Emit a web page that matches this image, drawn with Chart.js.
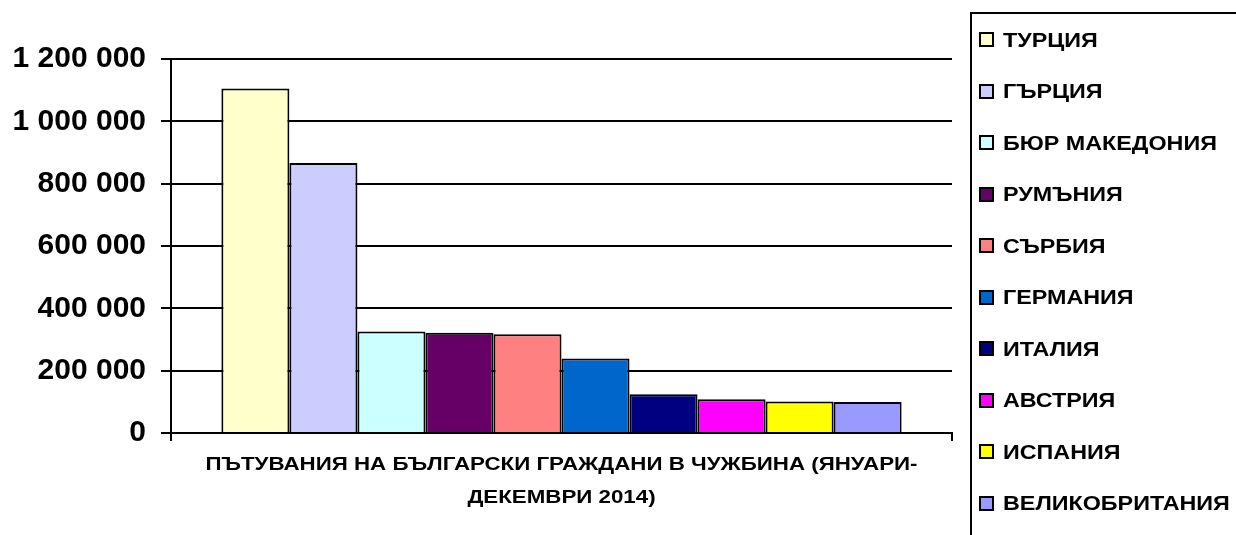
<!DOCTYPE html>
<html lang="bg">
<head>
    <meta charset="UTF-8">
    <title>Пътувания на български граждани в чужбина</title>
    <style>
        html, body {
            margin: 0;
            padding: 0;
            background: #fff;
            overflow: hidden;
        }
        #wrap {
            position: relative;
            width: 1236px;
            height: 535px;
        }
        #legend {
            position: absolute;
            left: 970px;
            top: 12px;
            width: 300px;
            height: 560px;
            border: 2px solid #000;
            box-sizing: border-box;
            font-family: "Liberation Sans", Arial, sans-serif;
            font-weight: bold;
            font-size: 21px;
            color: #000;
        }
        #legend ul {
            list-style: none;
            margin: 0;
            padding: 0 0 0 7px;
        }
        #legend li {
            height: 51.5px;
            display: flex;
            align-items: center;
        }
        #legend .box {
            width: 15px;
            height: 15px;
            border: 2px solid #000;
            box-sizing: border-box;
            margin-right: 9px;
            flex: none;
        }
        #legend .txt {
            display: inline-block;
            transform: scaleX(1.11);
            transform-origin: left center;
        }
    </style>
    <script src="https://cdn.jsdelivr.net/npm/chart.js"></script>
</head>
<body>
    <div id="wrap">
        <canvas id="chartCanvas" width="1236" height="535"></canvas>
        <div id="legend"><ul id="legend-list"></ul></div>
    </div>

    <script>
        // данни
        const categoryLabel = ['ПЪТУВАНИЯ НА БЪЛГАРСКИ ГРАЖДАНИ В ЧУЖБИНА (ЯНУАРИ-', 'ДЕКЕМВРИ 2014)'];
        const countries = ['ТУРЦИЯ', 'ГЪРЦИЯ', 'БЮР МАКЕДОНИЯ', 'РУМЪНИЯ', 'СЪРБИЯ', 'ГЕРМАНИЯ', 'ИТАЛИЯ', 'АВСТРИЯ', 'ИСПАНИЯ', 'ВЕЛИКОБРИТАНИЯ'];
        const trips = [1105000, 866000, 326000, 321500, 317000, 239000, 124500, 108500, 101000, 99700];
        const colors = ['#FFFFCC', '#CCCCFF', '#CCFFFF', '#660066', '#FF8080', '#0066CC', '#000080', '#FF00FF', '#FFFF00', '#9999FF'];
        const yTicks = [0, 200000, 400000, 600000, 800000, 1000000, 1200000];

        const fontFamily = '"Liberation Sans", Arial, sans-serif';

        function fmt(v) {
            return String(v).replace(/\B(?=(\d{3})+(?!\d))/g, ' ');
        }

        // легенда
        const list = document.getElementById('legend-list');
        countries.forEach((name, i) => {
            const li = document.createElement('li');
            li.innerHTML = `<span class="box" style="background:${colors[i]}"></span><span class="txt">${name}</span>`;
            list.appendChild(li);
        });

        // надписът под оста е по-широк от нормалния шрифт - разтягаме го хоризонтално
        const stretchXLabels = {
            id: 'stretchXLabels',
            afterUpdate(chart) {
                const xs = chart.scales.x;
                if (!xs || xs._stretched) return;
                const orig = xs.drawLabels;
                xs.drawLabels = function (area) {
                    const ctx = this.ctx;
                    const cx = (this.left + this.right) / 2;
                    ctx.save();
                    ctx.translate(cx, 0);
                    ctx.scale(1.24, 1);
                    ctx.translate(-cx, 0);
                    orig.call(this, area);
                    ctx.restore();
                };
                xs._stretched = true;
            }
        };

        const datasets = countries.map((name, i) => ({
            label: name,
            data: [trips[i]],
            backgroundColor: colors[i],
            borderColor: '#000',
            borderWidth: 2,
            categoryPercentage: 0.871,
            barPercentage: 1.0
        }));

        new Chart(document.getElementById('chartCanvas').getContext('2d'), {
            type: 'bar',
            data: {
                labels: [categoryLabel],
                datasets: datasets
            },
            plugins: [stretchXLabels],
            options: {
                responsive: false,
                animation: false,
                layout: {
                    padding: { top: 59, right: 284, bottom: 0, left: 0 }
                },
                plugins: {
                    legend: { display: false },
                    tooltip: { enabled: false }
                },
                scales: {
                    x: {
                        afterFit: (scale) => { scale.height = 102; },
                        grid: {
                            offset: true,
                            drawOnChartArea: false,
                            drawTicks: true,
                            tickLength: 8,
                            color: '#000',
                            lineWidth: 2
                        },
                        border: { display: true, color: '#000', width: 2 },
                        ticks: {
                            maxRotation: 0,
                            padding: 8,
                            color: '#000',
                            font: { family: fontFamily, size: 18, weight: 'bold', lineHeight: 1.8 }
                        }
                    },
                    y: {
                        min: 0,
                        max: 1200000,
                        afterFit: (scale) => { scale.width = 171; },
                        afterBuildTicks: (scale) => { scale.ticks = yTicks.map(v => ({ value: v })); },
                        grid: {
                            color: '#000',
                            lineWidth: 2,
                            tickLength: 10
                        },
                        border: { display: true, color: '#000', width: 2 },
                        ticks: {
                            padding: 15,
                            color: '#000',
                            font: { family: fontFamily, size: 30, weight: 'bold' },
                            callback: (v) => fmt(v)
                        }
                    }
                }
            }
        });
    </script>
</body>
</html>
